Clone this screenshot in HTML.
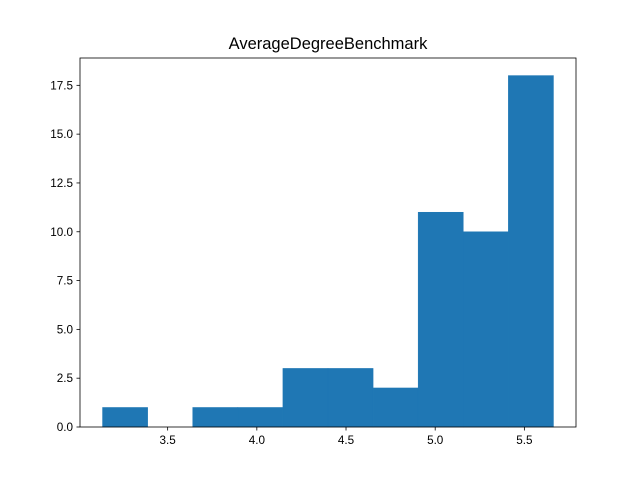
<!DOCTYPE html>
<html><head><meta charset="utf-8"><style>
body{margin:0;background:#fff}
svg{display:block;font-family:"Liberation Sans","DejaVu Sans",sans-serif}
</style></head><body>
<svg id="chart" width="640" height="480" viewBox="0 0 640 480">
<rect width="640" height="480" fill="#fff"/>
<text x="328" y="49" font-size="16.5" text-anchor="middle" fill="#000">AverageDegreeBenchmark</text>
<g id="bars"></g>
<g id="axes"></g>
</svg>
<script>
const binStart = 3.135;
const binEnd = 5.663;
const counts = [1, 0, 1, 1, 3, 3, 2, 11, 10, 18];
const xTicks = [3.5, 4.0, 4.5, 5.0, 5.5];
const xTickLabels = ["3.5", "4.0", "4.5", "5.0", "5.5"];
const yTicks = [0, 2.5, 5, 7.5, 10, 12.5, 15, 17.5];
const yTickLabels = ["0.0", "2.5", "5.0", "7.5", "10.0", "12.5", "15.0", "17.5"];

const L=80,R=576,T=58,B=427;
const span=binEnd-binStart;
const xmin=binStart-span*0.05, xmax=binEnd+span*0.05;
const ymax=Math.max(...counts)*1.05;
const xs=v=>L+(v-xmin)/(xmax-xmin)*(R-L);
const ys=v=>B-v/ymax*(B-T);
const NS="http://www.w3.org/2000/svg";
const bars=document.getElementById('bars'), axes=document.getElementById('axes');
const w=span/counts.length;
counts.forEach((c,i)=>{
  if(c<=0) return;
  const r=document.createElementNS(NS,'rect');
  const x0=xs(binStart+i*w), x1=xs(binStart+(i+1)*w);
  r.setAttribute('x',x0);r.setAttribute('width',x1-x0);
  r.setAttribute('y',ys(c));r.setAttribute('height',B-ys(c));
  r.setAttribute('fill','#1f77b4');
  r.setAttribute('stroke','#1f77b4');
  r.setAttribute('stroke-width','0.5');
  
  
  bars.appendChild(r);
});
function el(tag,attrs,txt){const e=document.createElementNS(NS,tag);for(const k in attrs)e.setAttribute(k,attrs[k]);if(txt!=null)e.textContent=txt;axes.appendChild(e);return e;}
const frame=el('rect',{x:L,y:T,width:R-L,height:B-T,fill:'none',stroke:'#000','stroke-width':0.8});


xTicks.forEach((v,i)=>{
  const x=xs(v);
  const t=el('line',{x1:x,x2:x,y1:B,y2:B+3.5,stroke:'#000','stroke-width':0.8});
  
  
  const l=el('text',{x:x,y:B+17,'font-size':11.7,'text-anchor':'middle'},xTickLabels[i]);
  
  
});
yTicks.forEach((v,i)=>{
  const y=ys(v);
  const t=el('line',{x1:L-3.5,x2:L,y1:y,y2:y,stroke:'#000','stroke-width':0.8});
  
  
  const l=el('text',{x:L-7,y:y+4,'font-size':11.7,'text-anchor':'end'},yTickLabels[i]);
  
  
});
</script>
</body></html>
